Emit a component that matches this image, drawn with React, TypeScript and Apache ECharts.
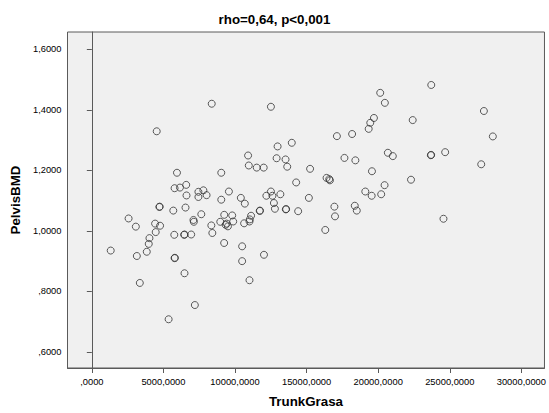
import React, { useEffect, useRef } from "react";
import * as echarts from "echarts";

const titleText = "rho=0,64, p<0,001";
const xName = "TrunkGrasa";
const yName = "PelvisBMD";
const xTicks = [0, 5000, 10000, 15000, 20000, 25000, 30000];
const yTicks = [0.6, 0.8, 1.0, 1.2, 1.4, 1.6];

const trunkGrasa = [
  1318, 2567, 3073, 3143, 3351, 3837, 3975, 4024, 4419, 4461, 4531, 4718, 4740, 4766, 5363,
  5689, 5759, 5779, 5800, 5779, 5946, 6154, 6452, 6470, 6473, 6542, 6591, 6612, 6938, 7098,
  7125, 7195, 7444, 7444, 7646, 7791, 8013, 8374, 8346, 8416, 8971, 9040, 9040, 9248, 9241,
  9345, 9505, 9415, 9574, 9803, 9873, 10407, 10497, 10497, 10636, 10685, 10913, 10962, 11011, 11122,
  11031, 11011, 11517, 11725, 11745, 12003, 12023, 12190, 12509, 12509, 12613, 12717, 12787, 12905, 12974,
  13168, 13529, 13550, 13570, 13647, 13966, 14271, 14410, 15160, 15243, 16304, 16394, 16582, 16630, 16942,
  16984, 17116, 17643, 18178, 18406, 18365, 18504, 19100, 19336, 19447, 19565, 19544, 19704, 20141, 20210,
  20446, 20467, 20675, 21022, 22292, 22410, 23679, 23700, 23707, 24560, 24678, 27197, 27384, 28008,
];

const pelvisBMD = [
  0.935, 1.041, 1.014, 0.917, 0.828, 0.931, 0.957, 0.976, 1.024, 0.996, 1.329, 1.079, 1.080, 1.017, 0.708,
  1.067, 0.987, 0.910, 0.911, 1.141, 1.192, 1.143, 0.987, 0.988, 0.860, 1.077, 1.152, 1.117, 0.988, 1.036,
  1.030, 0.755, 1.129, 1.112, 1.055, 1.134, 1.118, 1.420, 1.018, 0.993, 1.030, 1.192, 1.103, 1.053, 0.960,
  1.020, 1.015, 1.024, 1.130, 1.051, 1.031, 1.109, 0.949, 0.900, 1.025, 1.090, 1.249, 1.216, 0.837, 1.050,
  1.038, 1.031, 1.209, 1.066, 1.067, 1.209, 0.921, 1.116, 1.410, 1.130, 1.116, 1.092, 1.073, 1.240, 1.279,
  1.121, 1.236, 1.071, 1.072, 1.212, 1.291, 1.160, 1.065, 1.109, 1.205, 1.003, 1.175, 1.171, 1.167, 1.080,
  1.048, 1.313, 1.241, 1.320, 1.233, 1.083, 1.067, 1.130, 1.337, 1.357, 1.197, 1.116, 1.373, 1.456, 1.121,
  1.151, 1.423, 1.258, 1.247, 1.169, 1.366, 1.250, 1.251, 1.482, 1.040, 1.260, 1.220, 1.396, 1.312,
];

const fmt = (v: number) => {
  let s = v.toFixed(4).replace(".", ",");
  if (s.startsWith("0,")) s = s.slice(1);
  return s;
};

export default function App() {
  const ref = useRef<HTMLDivElement>(null);
  useEffect(() => {
    if (!ref.current) return;
    const chart = echarts.init(ref.current, undefined, { renderer: "svg" });
    const font = "'Liberation Sans', Arial, sans-serif";
    const data = trunkGrasa.map((x, i) => [x, pelvisBMD[i]]);
    chart.setOption({
      animation: false,
      backgroundColor: "#ffffff",
      title: {
        text: titleText,
        left: "center",
        top: 13,
        padding: 0,
        textStyle: { fontFamily: font, fontSize: 13.33, fontWeight: "bold", color: "#000" },
      },
      grid: {
        left: 67.5,
        right: 1.5,
        top: 32,
        bottom: 38,
        show: true,
        backgroundColor: "#f0f0f0",
        borderColor: "#5a5a5a",
        borderWidth: 1,
      },
      xAxis: {
        type: "value",
        min: -1700,
        max: 31615,
        name: xName,
        nameLocation: "middle",
        nameGap: 27,
        nameTextStyle: { fontFamily: font, fontSize: 13.33, fontWeight: "bold", color: "#000" },
        axisLine: { show: true, lineStyle: { color: "#5a5a5a", width: 1 } },
        axisTick: { show: true, length: 5, customValues: xTicks, lineStyle: { color: "#5a5a5a" } },
        axisLabel: {
          customValues: xTicks,
          margin: 9,
          fontFamily: font,
          fontSize: 9.33,
          color: "#000",
          formatter: (v: number) => fmt(v),
        },
        splitLine: { show: false },
      },
      yAxis: {
        type: "value",
        min: 0.547,
        max: 1.657,
        name: yName,
        nameLocation: "middle",
        nameGap: 43,
        nameTextStyle: { fontFamily: font, fontSize: 13.33, fontWeight: "bold", color: "#000" },
        axisLine: { show: true, lineStyle: { color: "#5a5a5a", width: 1 } },
        axisTick: { show: true, length: 5, customValues: yTicks, lineStyle: { color: "#5a5a5a" } },
        axisLabel: {
          customValues: yTicks,
          margin: 6,
          fontFamily: font,
          fontSize: 9.33,
          color: "#000",
          formatter: (v: number) => fmt(v),
        },
        splitLine: { show: false },
      },
      series: [
        {
          type: "scatter",
          data,
          symbol: "circle",
          symbolSize: 7,
          itemStyle: { color: "rgba(0,0,0,0)", borderColor: "#333333", borderWidth: 1 },
          emphasis: { disabled: true },
        },
      ],
    });
    return () => chart.dispose();
  }, []);
  return <div ref={ref} style={{ width: 549, height: 413, position: "absolute", left: 0, top: 0 }} />;
}
